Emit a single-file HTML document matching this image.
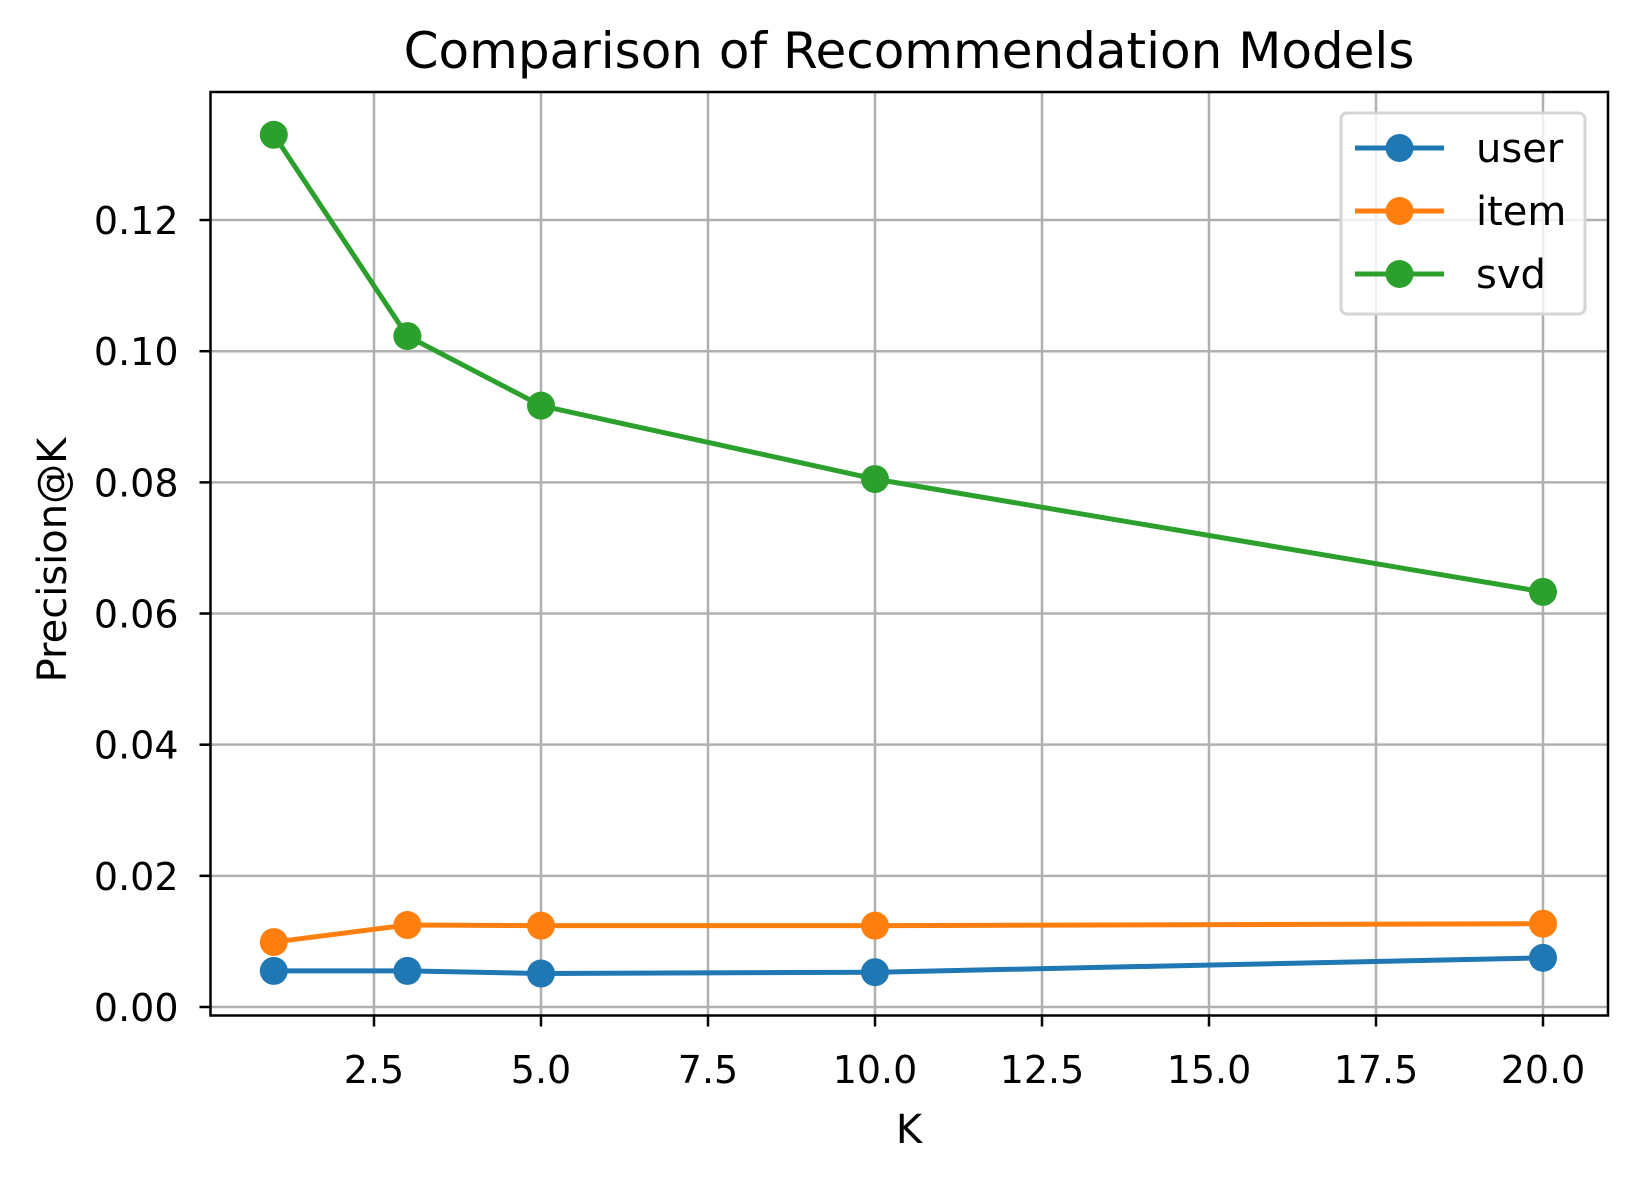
<!DOCTYPE html>
<html><head><meta charset="utf-8"><style>
html,body{margin:0;padding:0;background:#fff;}
svg text{font-family:"DejaVu Sans","Liberation Sans",sans-serif;fill:#000;}
</style></head><body>
<svg id="chart" width="1635" height="1176" viewBox="0 0 1635 1176" xmlns="http://www.w3.org/2000/svg">
<rect width="1635" height="1176" fill="#fff"/>
<text x="909" y="68" font-size="50" text-anchor="middle">Comparison of Recommendation Models</text>
<g id="grid"></g>
<g id="ticks"></g>
<g id="series"></g>
<rect x="210.5" y="92" width="1397.5" height="923.5" fill="none" stroke="#000" stroke-width="2.5"/>
<text x="909" y="1143" font-size="40" text-anchor="middle">K</text>
<text x="66" y="560" font-size="40" text-anchor="middle" transform="rotate(-90 66 560)">Precision@K</text>
<g id="legend"></g>
</svg>
<script>
const kValues=[1,3,5,10,20];
const userVals=[0.0055,0.0055,0.0051,0.0053,0.0075];
const itemVals=[0.0099,0.0125,0.0124,0.0124,0.0127];
const svdVals=[0.1330,0.1023,0.0917,0.0805,0.0633];
const seriesNames=['user','item','svd'];
const xTicks=[2.5,5.0,7.5,10.0,12.5,15.0,17.5,20.0];
const yTicks=[0.00,0.02,0.04,0.06,0.08,0.10,0.12];
const colors=['#1f77b4','#ff7f0e','#2ca02c'];
const NS='http://www.w3.org/2000/svg';
const L=210.5,R=1608,T=92,B=1015.5;
function xs(v){return 374+(v-2.5)*66.8;}
function ys(v){return 1007-v*6558;}
function mk(tag,attrs,parent){const e=document.createElementNS(NS,tag);for(const k in attrs)e.setAttribute(k,attrs[k]);parent.appendChild(e);return e;}
const grid=document.getElementById('grid'),ticks=document.getElementById('ticks');
xTicks.forEach(t=>{const x=xs(t);
 const g=mk('line',{x1:x,x2:x,y1:T,y2:B,stroke:'#b0b0b0','stroke-width':2.5},grid);
 
 
 const tk=mk('line',{x1:x,x2:x,y1:B,y2:B+11,stroke:'#000','stroke-width':2.5},ticks);
 
 
 const tx=mk('text',{x:x,y:1083,'font-size':38,'text-anchor':'middle'},ticks);tx.textContent=t.toFixed(1);
 
 
});
yTicks.forEach(t=>{const y=ys(t);
 const g=mk('line',{x1:L,x2:R,y1:y,y2:y,stroke:'#b0b0b0','stroke-width':2.5},grid);
 
 
 const tk=mk('line',{x1:L-11,x2:L,y1:y,y2:y,stroke:'#000','stroke-width':2.5},ticks);
 
 
 const tx=mk('text',{x:L-32,y:y+14,'font-size':38,'text-anchor':'end'},ticks);tx.textContent=t.toFixed(2);
 
 
});
const sg=document.getElementById('series');
[userVals,itemVals,svdVals].forEach((vals,i)=>{
 const g=mk('g',{},sg);
 
 
 const pl=mk('polyline',{points:vals.map((v,j)=>xs(kValues[j])+','+ys(v)).join(' '),fill:'none',stroke:colors[i],'stroke-width':5},g);
 
 
 vals.forEach((v,j)=>{const c=mk('circle',{cx:xs(kValues[j]),cy:ys(v),r:14,fill:colors[i]},g);
  
  });
});
const lg=document.getElementById('legend');


mk('rect',{x:1341,y:113,width:244,height:201,rx:6,fill:'#fff','fill-opacity':0.8,stroke:'#d5d5d5','stroke-width':3},lg);
seriesNames.forEach((n,i)=>{const y=148+i*63;
 const e=mk('g',{},lg);
 
 
 mk('line',{x1:1355,x2:1444,y1:y,y2:y,stroke:colors[i],'stroke-width':5},e);
 mk('circle',{cx:1399.5,cy:y,r:14,fill:colors[i]},e);
 const t=mk('text',{x:1476,y:y+14,'font-size':40},e);t.textContent=n;
});
</script>
</body></html>
